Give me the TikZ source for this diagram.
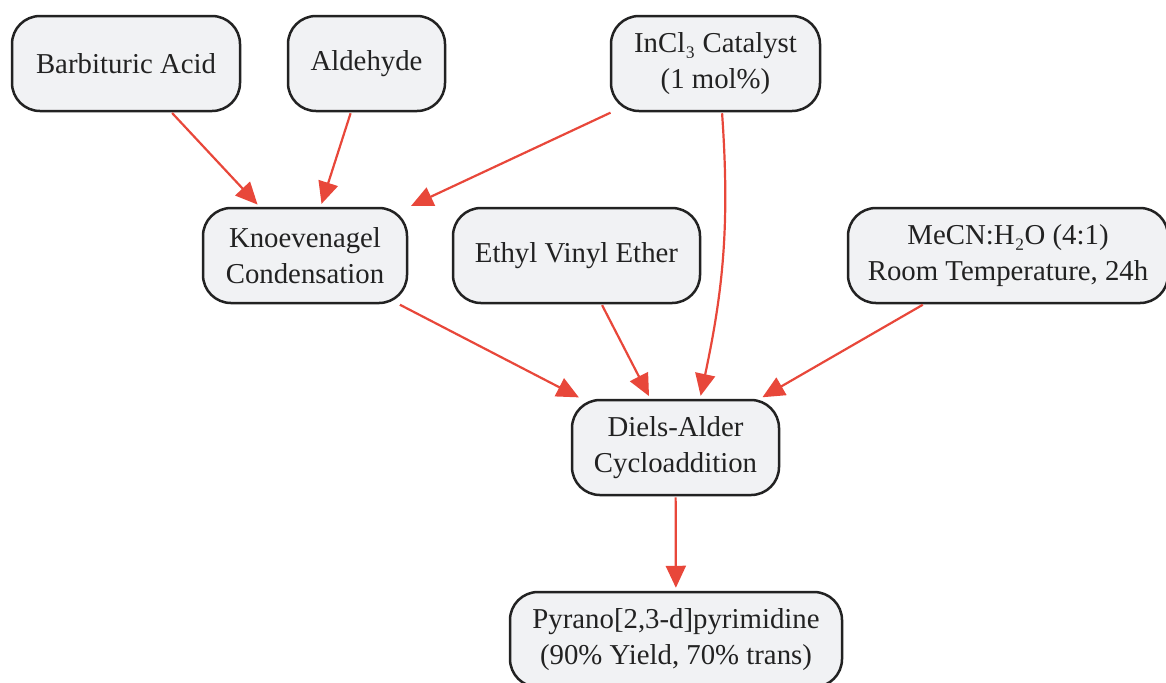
\documentclass[tikz,border=0pt]{standalone}
\usepackage{fontspec}
\setmainfont{Liberation Serif}
\usetikzlibrary{arrows.meta}
\definecolor{boxfill}{HTML}{F1F2F4}
\definecolor{boxline}{HTML}{222222}
\definecolor{arrred}{HTML}{E8473A}
\tikzset{
  stepbox/.style={draw=boxline, line width=1.25pt, fill=boxfill, rounded corners=14pt,
    minimum height=47.5pt, align=center, text=boxline, inner sep=0pt,
    font=\fontsize{14.4}{18}\selectfont},
  arr/.style={draw=arrred, line width=1.1pt, -{Triangle[length=11pt,width=10pt]}, shorten >=1.5pt, shorten <=0.5pt}
}
\begin{document}
\begin{tikzpicture}[x=0.5pt,y=-0.5pt]
\useasboundingbox (0,0) rectangle (1166,682);
\node[stepbox, minimum width=114pt] (barb) at (126,63.5) {Barbituric Acid};
\node[stepbox, minimum width=78.5pt] (ald) at (366.5,63.5) {Aldehyde};
\node[stepbox, minimum width=104.5pt] (incl) at (715.5,63.5) {InCl₃ Catalyst\\(1 mol\%)};
\node[stepbox, minimum width=102pt] (knoev) at (305,255.5) {Knoevenagel\\Condensation};
\node[stepbox, minimum width=123.5pt] (eve) at (576.5,255.5) {Ethyl Vinyl Ether};
\node[stepbox, minimum width=160pt] (mecn) at (1008,255.5) {MeCN:H₂O (4:1)\\Room Temperature, 24h};
\node[stepbox, minimum width=103.5pt] (diels) at (675.5,447.5) {Diels-Alder\\Cycloaddition};
\node[stepbox, minimum width=166pt] (pyr) at (676,639.5) {Pyrano[2,3-d]pyrimidine\\(90\% Yield, 70\% trans)};
\draw[arr] (barb) -- (knoev);
\draw[arr] (ald) -- (knoev);
\draw[arr] (incl) -- (knoev);
\draw[arr] (knoev) -- (diels);
\draw[arr] (eve) -- (diels);
\draw[arr] (mecn) -- (diels);
\draw[arr] ([xshift=3.25pt]incl.south) to[out=-86,in=78] ([xshift=12.25pt]diels.north);
\draw[arr] (diels) -- (pyr);
\end{tikzpicture}
\end{document}
